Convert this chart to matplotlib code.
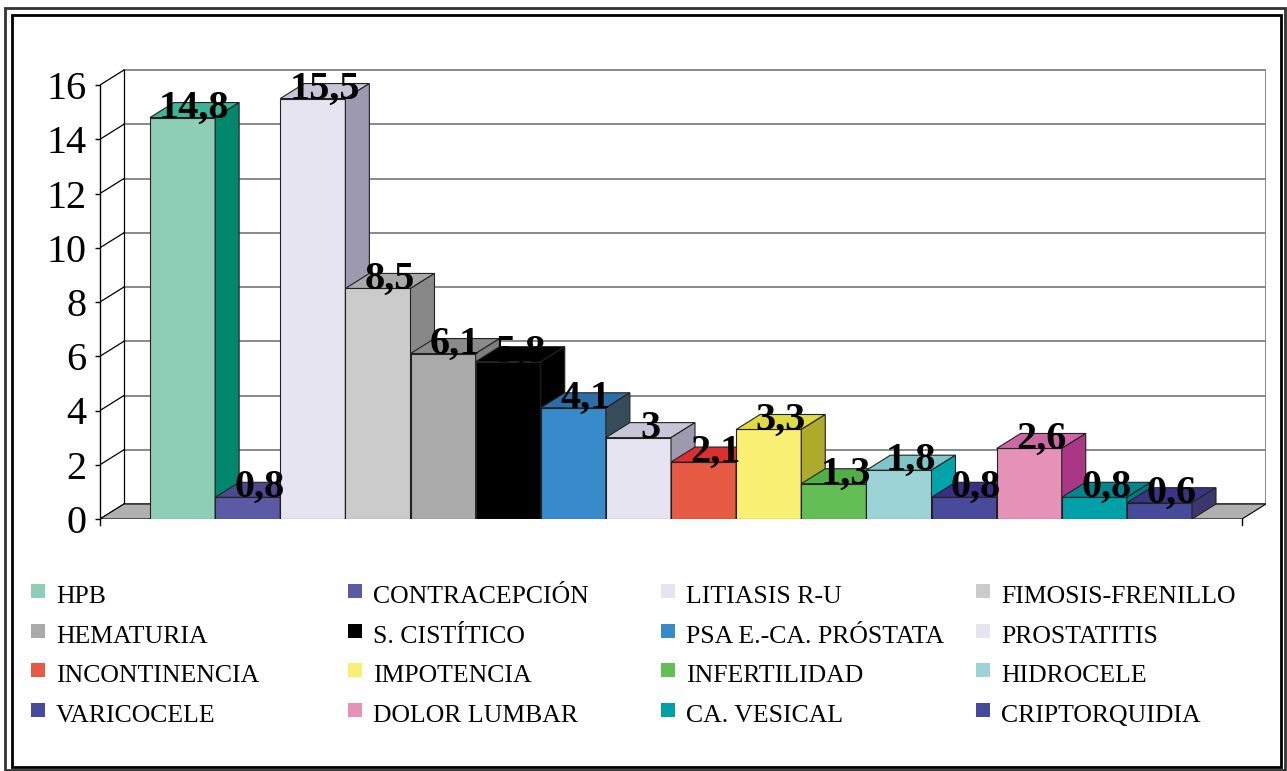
"""Urology consultation reasons (%) drawn as an Excel-style 3D column chart."""
import matplotlib.pyplot as plt
from matplotlib.patches import Polygon, Rectangle


# Data
categories = ["HPB", "CONTRACEPCIÓN", "LITIASIS R-U", "FIMOSIS-FRENILLO",
              "HEMATURIA", "S. CISTÍTICO", "PSA E.-CA. PRÓSTATA", "PROSTATITIS",
              "INCONTINENCIA", "IMPOTENCIA", "INFERTILIDAD", "HIDROCELE",
              "VARICOCELE", "DOLOR LUMBAR", "CA. VESICAL", "CRIPTORQUIDIA"]
values = [14.8, 0.8, 15.5, 8.5, 6.1, 5.8, 4.1, 3, 2.1, 3.3, 1.3, 1.8, 0.8, 2.6, 0.8, 0.6]
yticks = [0, 2, 4, 6, 8, 10, 12, 14, 16]

front_colors = ["#8FCEB6", "#5B5BA5", "#E6E4F0", "#CBCBCB", "#AAAAAA", "#000000",
                "#378BCB", "#E6E4F0", "#E75A44", "#F8EF73", "#62BE55", "#9CD3D6",
                "#484B9C", "#E592B6", "#00A0A8", "#464A9A"]
top_colors = ["#3BB497", "#4B4990", "#C8C5D8", "#A9A9A9", "#8A8A8A", "#000000",
              "#2D6DA8", "#C8C5D8", "#DC3030", "#E0DB43", "#52AE48", "#7EC5C8",
              "#3A2E85", "#CC68A3", "#00878D", "#3C3386"]
side_colors = ["#00876E", "#3E3C7A", "#9D99AF", "#888888", "#7E7E7E", "#000000",
               "#374C5A", "#9D99AF", "#C92A2A", "#AEAA2B", "#3E9A36", "#00A4AA",
               "#2E2C70", "#A93786", "#007C80", "#3C3770"]

SERIF = "Liberation Serif"
W, H = 1287, 771

fig = plt.figure(figsize=(W / 100, H / 100), dpi=100)

# background layer in pixel coordinates: frame + legend
bg = fig.add_axes([0, 0, 1, 1], zorder=-1)
bg.set_xlim(0, W)
bg.set_ylim(H, 0)
bg.axis("off")
bg.add_patch(Rectangle((5, 8), 1280, 762, fill=False, ec="#333333", lw=2))
bg.add_patch(Rectangle((12, 15), 1269, 752, fill=False, ec="black", lw=2))

col_x = [31, 348, 661, 976]
row_base = [603, 643, 682, 722]
for k, name in enumerate(categories):
    cx, by = col_x[k % 4], row_base[k // 4]
    bg.add_patch(Rectangle((cx, by - 19), 14, 14, fc=front_colors[k], ec="none"))
    bg.text(cx + 25, by, name, fontsize=18.5, family=SERIF, va="baseline", ha="left")

# main chart: pixel scale of the front plane
PX_X, PX_Y = 65.125, 27.125
GAP = 50 / PX_X
DX, DY = 24 / PX_X, 15 / PX_Y
left_px, right_px, zero_px, top_px = 100, 1266, 519, 65

ax = fig.add_axes([left_px / W, 1 - zero_px / H,
                   (right_px - left_px) / W, (zero_px - top_px) / H])
ax.set_xlim(-GAP, -GAP + (right_px - left_px) / PX_X)
ax.set_ylim(0, (zero_px - top_px) / PX_Y)
ax.patch.set_visible(False)

n = len(values)
x_l, x_r = -GAP, n + GAP

# back wall and gridlines
for t in yticks:
    ax.plot([x_l + DX, x_r + DX], [t + DY, t + DY], color="#808080", lw=1.3, zorder=1)
    ax.plot([x_l, x_l + DX], [t, t + DY], color="black", lw=0.9, zorder=1)
ax.plot([x_l + DX, x_l + DX], [DY, yticks[-1] + DY], color="black", lw=0.9, zorder=1)
ax.plot([x_r + DX, x_r + DX], [DY, yticks[-1] + DY], color="#808080", lw=1.3, zorder=1)

# floor
ax.add_patch(Polygon([(x_l, 0), (x_r, 0), (x_r + DX, DY), (x_l + DX, DY)],
                     closed=True, fc="#B0B0B0", ec="black", lw=0.8, zorder=1.5))
for xe in (x_l, x_r):
    ax.plot([xe, xe], [0, -6 / PX_Y], color="black", lw=1, clip_on=False)

# bars, painted left to right so each front hides the previous side
for i, v in enumerate(values):
    z = 3 + i
    ax.bar(i, v, width=1, align="edge", color=front_colors[i],
           edgecolor="#222222", lw=0.8, zorder=z)
    ax.add_patch(Polygon([(i, v), (i + 1, v), (i + 1 + DX, v + DY), (i + DX, v + DY)],
                         closed=True, fc=top_colors[i], ec="#222222", lw=0.8, zorder=z))
    ax.add_patch(Polygon([(i + 1, 0), (i + 1, v), (i + 1 + DX, v + DY), (i + 1 + DX, DY)],
                         closed=True, fc=side_colors[i], ec="#222222", lw=0.8, zorder=z))

for i, v in enumerate(values):
    ax.text(i + 0.5 + DX / 2, v, f"{v:g}".replace(".", ","), ha="center", va="baseline",
            fontsize=29, fontweight="bold", family=SERIF, zorder=100)

# front value axis
for s in ("top", "right", "bottom"):
    ax.spines[s].set_visible(False)
ax.spines["left"].set_bounds(0, yticks[-1])
ax.spines["left"].set_linewidth(1)
ax.set_xticks([])
ax.set_yticks(yticks)
ax.set_yticklabels([str(t) for t in yticks], family=SERIF, fontsize=29)
ax.tick_params(axis="y", direction="out", length=3.6, width=1, pad=6)

fig.savefig("out.png", dpi=100)
